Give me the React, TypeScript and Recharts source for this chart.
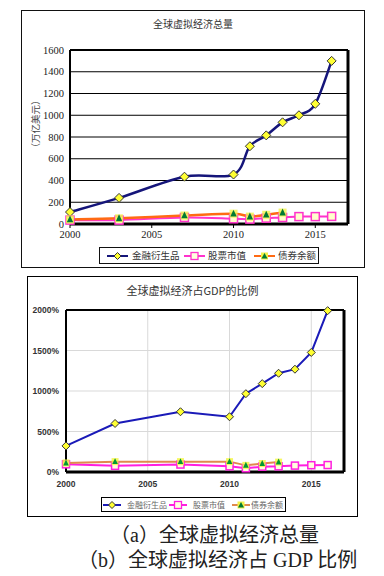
import { LineChart, Line, CartesianGrid, XAxis, YAxis, ReferenceLine } from 'recharts';

// years with observations
const years = [2000, 2003, 2007, 2010, 2011, 2012, 2013, 2014, 2015, 2016];
const xTicks = [2000, 2005, 2010, 2015];

// (a) totals, 万亿美元
const derivTotal = [110, 240, 435, 455, 715, 815, 935, 1000, 1105, 1500];
const stockTotal = [36, 36, 60, 48, 45, 54, 60, 68, 68, 70];
const bondTotal = [42, 52, 78, 95, 68, 85, 105, null, null, null];
const totalTicks = [0, 200, 400, 600, 800, 1000, 1200, 1400, 1600];

// (b) share of GDP, %
const derivPct = [322, 599, 744, 682, 967, 1091, 1219, 1269, 1476, 1992];
const stockPct = [95, 76, 92, 70, 46, 66, 70, 79, 84, 86];
const bondPct = [112, 128, 128, 128, 82, 105, 122, null, null, null];
const pctTicks = [0, 500, 1000, 1500, 2000];

const seriesNames = ['金融衍生品', '股票市值', '债券余额'];

const totalData = years.map((y, i) => ({ year: y, deriv: derivTotal[i], stock: stockTotal[i], bond: bondTotal[i] }));
const pctData = years.map((y, i) => ({ year: y, deriv: derivPct[i], stock: stockPct[i], bond: bondPct[i] }));

const serif = "'Liberation Serif', 'DejaVu Serif', 'Noto Sans CJK SC', serif";
const sans = "'Liberation Sans', Arial, 'Noto Sans CJK SC', sans-serif";
const cjk = "'Noto Sans CJK SC', sans-serif";

// Excel style smoothed line (cardinal spline through the points)
function excelSmooth(context: any) {
    let pts: number[][] = [];
    return {
        areaStart() {},
        areaEnd() {},
        lineStart() { pts = []; },
        point(x: number, y: number) { pts.push([+x, +y]); },
        lineEnd() {
            const n = pts.length;
            if (!n) return;
            context.moveTo(pts[0][0], pts[0][1]);
            for (let i = 0; i < n - 1; i++) {
                const p0 = pts[i - 1] || pts[i];
                const p1 = pts[i];
                const p2 = pts[i + 1];
                const p3 = pts[i + 2] || p2;
                context.bezierCurveTo(
                    p1[0] + (p2[0] - p0[0]) / 6, p1[1] + (p2[1] - p0[1]) / 6,
                    p2[0] - (p3[0] - p1[0]) / 6, p2[1] - (p3[1] - p1[1]) / 6,
                    p2[0], p2[1]
                );
            }
        }
    };
}

function diamondDot(s: number, fill: string, stroke: string) {
    return (p: any) => {
        if (p.cx == null || p.cy == null) return <g key={p.key} />;
        const { cx, cy } = p;
        return <path key={p.key} d={`M${cx},${cy - s}L${cx + s},${cy}L${cx},${cy + s}L${cx - s},${cy}Z`} fill={fill} stroke={stroke} strokeWidth={1} />;
    };
}

function squareDot(s: number, fill: string, stroke: string) {
    return (p: any) => {
        if (p.cx == null || p.cy == null) return <g key={p.key} />;
        return <rect key={p.key} x={p.cx - s} y={p.cy - s} width={s * 2} height={s * 2} fill={fill} stroke={stroke} strokeWidth={1.5} />;
    };
}

function triangleDot(s: number, fill: string, stroke: string) {
    return (p: any) => {
        if (p.cx == null || p.cy == null) return <g key={p.key} />;
        const { cx, cy } = p;
        return (
            <g key={p.key}>
                <rect x={cx - s} y={cy - s} width={s * 2} height={s * 2} fill={stroke} opacity={0.8} />
                <path d={`M${cx},${cy - s}L${cx + s * 0.8},${cy + s * 0.7}L${cx - s * 0.8},${cy + s * 0.7}Z`} fill={fill} />
            </g>
        );
    };
}

function LegendIcon(props: { color: string, kind: string, w: number, sw: number }) {
    const { color, kind, w, sw } = props;
    const c = w / 2;
    return (
        <svg width={w} height={10} style={{ display: 'block' }}>
            <line x1={0} y1={5} x2={w} y2={5} stroke={color} strokeWidth={sw} />
            {kind === 'diamond' && <path d={`M${c},1.5L${c + 3.5},5L${c},8.5L${c - 3.5},5Z`} fill="#ffff33" stroke="#333" strokeWidth={1} />}
            {kind === 'square' && <rect x={c - 3.5} y={1.5} width={7} height={7} fill="#ffffdd" stroke={color} strokeWidth={1.3} />}
            {kind === 'triangle' && <g><rect x={c - 3.5} y={1.5} width={7} height={7} fill="#f2f24a" /><path d={`M${c},2L${c + 3},7.5L${c - 3},7.5Z`} fill="#007a33" /></g>}
        </svg>
    );
}

type LegendItem = { name: string, color: string, kind: string, iconX: number, textX: number };

function LegendBox(props: { left: number, top: number, width: number, height: number, items: LegendItem[], fontSize: number, iconW: number, border: string, color: string }) {
    const { left, top, width, height, items, fontSize, iconW, border, color } = props;
    return (
        <div style={{ position: 'absolute', left, top, width, height, border, boxSizing: 'border-box', background: '#fff' }}>
            {items.map(it => (
                <div key={it.name}>
                    <div style={{ position: 'absolute', left: it.iconX, top: (height - 12) / 2 }}>
                        <LegendIcon color={it.color} kind={it.kind} w={iconW} sw={2} />
                    </div>
                    <div style={{ position: 'absolute', left: it.textX, top: 0, height: height - 2, lineHeight: `${height - 2}px`, fontSize, fontFamily: cjk, color, whiteSpace: 'nowrap' }}>{it.name}</div>
                </div>
            ))}
        </div>
    );
}

const blueA = '#15157a';
const pinkA = '#ff33cc';
const orangeA = '#ff6a13';
const blueB = '#1a1ab8';
const pinkB = '#ff1fe0';
const orangeB = '#e08a4c';

function TotalChart() {
    const tick = { fontFamily: serif, fontSize: 10.5, fill: '#222' };
    return (
        <div style={{ position: 'absolute', left: 0, top: 0 }}>
            <LineChart width={384} height={280} data={totalData} margin={{ top: 50, right: 36, bottom: 36, left: 20 }}>
                <CartesianGrid vertical={false} stroke="#000" strokeWidth={1} />
                <XAxis dataKey="year" type="number" domain={[2000, 2017]} ticks={xTicks} height={20}
                    axisLine={{ stroke: '#000', strokeWidth: 3 }} tickLine={{ stroke: '#000' }} tickSize={4} tickMargin={3} tick={tick} interval={0} />
                <YAxis type="number" domain={[0, 1600]} ticks={totalTicks} width={50} interval={0}
                    axisLine={{ stroke: '#000', strokeWidth: 2 }} tickLine={false} tickSize={0} tickMargin={6} tick={tick}
                    label={{
                        position: 'center', content: () => (
                            <text transform="translate(35,124) rotate(-90)" textAnchor="middle" dominantBaseline="central" fontFamily={cjk} fontSize={9.5} fill="#444">（万亿美元）</text>
                        )
                    }} />
                <ReferenceLine y={1600} stroke="#000" strokeWidth={2} />
                <ReferenceLine x={2017} stroke="#000" strokeWidth={3} />
                <Line dataKey="deriv" name={seriesNames[0]} type={excelSmooth as any} stroke={blueA} strokeWidth={2.5}
                    dot={diamondDot(4.5, '#ffff33', '#333')} isAnimationActive={false} />
                <Line dataKey="stock" name={seriesNames[1]} type={excelSmooth as any} stroke={pinkA} strokeWidth={2}
                    dot={squareDot(4, '#ffffcc', pinkA)} isAnimationActive={false} />
                <Line dataKey="bond" name={seriesNames[2]} type={excelSmooth as any} stroke={orangeA} strokeWidth={2.5}
                    dot={triangleDot(4, '#007a33', '#f2f24a')} isAnimationActive={false} />
            </LineChart>
        </div>
    );
}

function PctChart() {
    const tick = { fontFamily: sans, fontSize: 8.5, fontWeight: 700, fill: '#333' };
    return (
        <div style={{ position: 'absolute', left: 0, top: 270 }}>
            <LineChart width={384} height={260} data={pctData} margin={{ top: 40, right: 40, bottom: 38, left: 20 }}>
                <CartesianGrid stroke="#d9d9d9" strokeWidth={1} />
                <XAxis dataKey="year" type="number" domain={[2000, 2017]} ticks={xTicks} height={20} interval={0}
                    axisLine={{ stroke: '#000', strokeWidth: 3 }} tickLine={false} tickSize={0} tickMargin={9} tick={tick} />
                <YAxis type="number" domain={[0, 2000]} ticks={pctTicks} width={46} interval={0}
                    tickFormatter={(v: number) => v + '%'}
                    axisLine={{ stroke: '#000', strokeWidth: 2 }} tickLine={false} tickSize={0} tickMargin={7} tick={tick} />
                <ReferenceLine y={2000} stroke="#000" strokeWidth={2} />
                <ReferenceLine x={2017} stroke="#000" strokeWidth={3} />
                <Line dataKey="deriv" name={seriesNames[0]} type="linear" stroke={blueB} strokeWidth={2}
                    dot={diamondDot(4, '#ffff33', '#333')} isAnimationActive={false} />
                <Line dataKey="stock" name={seriesNames[1]} type="linear" stroke={pinkB} strokeWidth={2}
                    dot={squareDot(3.5, '#ffffdd', pinkB)} isAnimationActive={false} />
                <Line dataKey="bond" name={seriesNames[2]} type="linear" stroke={orangeB} strokeWidth={2}
                    dot={triangleDot(3.5, '#009933', '#f5f53a')} isAnimationActive={false} />
            </LineChart>
        </div>
    );
}

export default function App() {
    const legendA: LegendItem[] = [
        { name: seriesNames[0], color: blueA, kind: 'diamond', iconX: 7, textX: 32 },
        { name: seriesNames[1], color: pinkA, kind: 'square', iconX: 84, textX: 108 },
        { name: seriesNames[2], color: orangeA, kind: 'triangle', iconX: 154, textX: 178 },
    ];
    const legendB: LegendItem[] = [
        { name: seriesNames[0], color: blueB, kind: 'diamond', iconX: 1, textX: 25 },
        { name: seriesNames[1], color: pinkB, kind: 'square', iconX: 67, textX: 91 },
        { name: seriesNames[2], color: orangeB, kind: 'triangle', iconX: 130, textX: 149 },
    ];
    return (
        <div style={{ position: 'absolute', left: 0, top: 0, width: 384, height: 576, background: '#fff', overflow: 'hidden' }}>
            <div style={{ position: 'absolute', left: 21, top: 10, width: 344, height: 258, border: '1px solid #111', boxSizing: 'border-box' }} />
            <div style={{ position: 'absolute', left: 27, top: 276, width: 331, height: 241, border: '1.5px solid #000', boxSizing: 'border-box' }} />
            <div style={{ position: 'absolute', left: 21, top: 18, width: 344, lineHeight: '12px', textAlign: 'center', fontSize: 10, fontFamily: cjk, color: '#333' }}>全球虚拟经济总量</div>
            <div style={{ position: 'absolute', left: 27, top: 284, width: 331, lineHeight: '13px', textAlign: 'center', fontSize: 11, fontFamily: cjk, color: '#333' }}>全球虚拟经济占GDP的比例</div>
            <TotalChart />
            <PctChart />
            <LegendBox left={99} top={247} width={220} height={17} items={legendA} fontSize={9.5} iconW={21} border="1px solid #111" color="#333" />
            <LegendBox left={101} top={497} width={185} height={15} items={legendB} fontSize={8} iconW={18} border="1.5px solid #000" color="#666" />
            <div style={{ position: 'absolute', left: 110, top: 524, lineHeight: '22px', fontSize: 20, fontFamily: serif, color: '#222', whiteSpace: 'nowrap' }}>（a）全球虚拟经济总量</div>
            <div style={{ position: 'absolute', left: 78, top: 549, lineHeight: '22px', fontSize: 20, fontFamily: serif, color: '#222', whiteSpace: 'nowrap' }}>（b）全球虚拟经济占 GDP 比例</div>
        </div>
    );
}
